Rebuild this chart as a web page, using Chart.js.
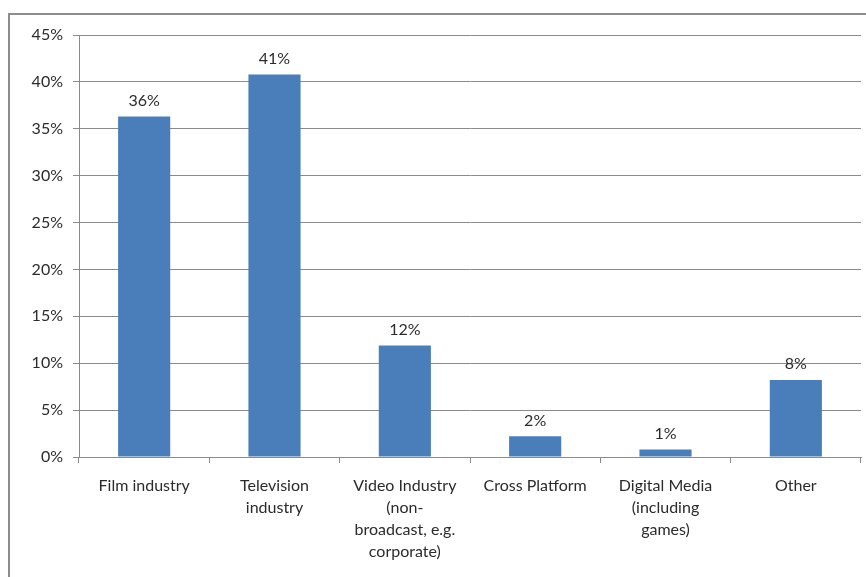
<!DOCTYPE html>
<html>
<head>
<meta charset="utf-8">
<script src="https://cdn.jsdelivr.net/npm/chart.js@4/dist/chart.umd.min.js"></script>
<style>
  html, body { margin: 0; padding: 0; background: #fff; }
  #wrap { position: relative; width: 866px; height: 577px; }
</style>
</head>
<body>
<div id="wrap"><canvas id="chart" width="866" height="577"></canvas></div>
<script>
// ── Data ─────────────────────────────
const categories = [
  "Film industry",
  ["Television", "industry"],
  ["Video Industry", "(non-", "broadcast, e.g.", "corporate)"],
  "Cross Platform",
  ["Digital Media", "(including", "games)"],
  "Other",
];
const shares = [36.3, 40.8, 11.9, 2.2, 0.8, 8.2];
const shareLabels = ["36%", "41%", "12%", "2%", "1%", "8%"];
const yTicks = [0, 5, 10, 15, 20, 25, 30, 35, 40, 45];

const fontFamily = "Lato, 'Open Sans', sans-serif";
const textColor = "#2b2b2b";
const gridColor = "#8a8a8a";

// outer frame like the original spreadsheet chart
const framePlugin = {
  id: "frame",
  beforeDraw(chart) {
    const ctx = chart.ctx;
    ctx.save();
    ctx.strokeStyle = "#8c8c8c";
    ctx.lineWidth = 2;
    ctx.strokeRect(9, 14, 900, 620);
    ctx.restore();
  },
};

// value labels above each bar
const valueLabels = {
  id: "valueLabels",
  afterDatasetsDraw(chart) {
    const ctx = chart.ctx;
    const meta = chart.getDatasetMeta(0);
    ctx.save();
    ctx.font = `16px ${fontFamily}`;
    ctx.fillStyle = textColor;
    ctx.textAlign = "center";
    ctx.textBaseline = "bottom";
    meta.data.forEach((bar, i) => {
      ctx.fillText(shareLabels[i], bar.x, bar.y - 8);
    });
    ctx.restore();
  },
};

new Chart(document.getElementById("chart"), {
  type: "bar",
  data: {
    labels: categories,
    datasets: [
      {
        data: shares,
        backgroundColor: "#4a7ebb",
        borderWidth: 0,
        barPercentage: 0.4,
        categoryPercentage: 1,
      },
    ],
  },
  options: {
    responsive: false,
    animation: false,
    layout: { padding: { top: 35, right: 5, left: 0, bottom: 0 } },
    plugins: {
      legend: { display: false },
      tooltip: { enabled: false },
    },
    scales: {
      x: {
        grid: {
          offset: true,
          drawOnChartArea: false,
          color: gridColor,
          tickLength: 6,
        },
        border: { color: gridColor, width: 1 },
        ticks: {
          color: textColor,
          font: { family: fontFamily, size: 16, lineHeight: 1.38 },
          maxRotation: 0,
          autoSkip: false,
          padding: 12,
        },
        afterFit: (scale) => {
          scale.height = 120;
        },
      },
      y: {
        min: 0,
        max: 45,
        afterBuildTicks: (scale) => {
          scale.ticks = yTicks.map((v) => ({ value: v }));
        },
        grid: { color: gridColor, tickLength: 6 },
        border: { color: gridColor, width: 1 },
        ticks: {
          color: textColor,
          font: { family: fontFamily, size: 16 },
          padding: 10,
          callback: (v) => v + "%",
        },
        afterFit: (scale) => {
          scale.width = 79;
        },
      },
    },
  },
  plugins: [framePlugin, valueLabels],
});
</script>
</body>
</html>
